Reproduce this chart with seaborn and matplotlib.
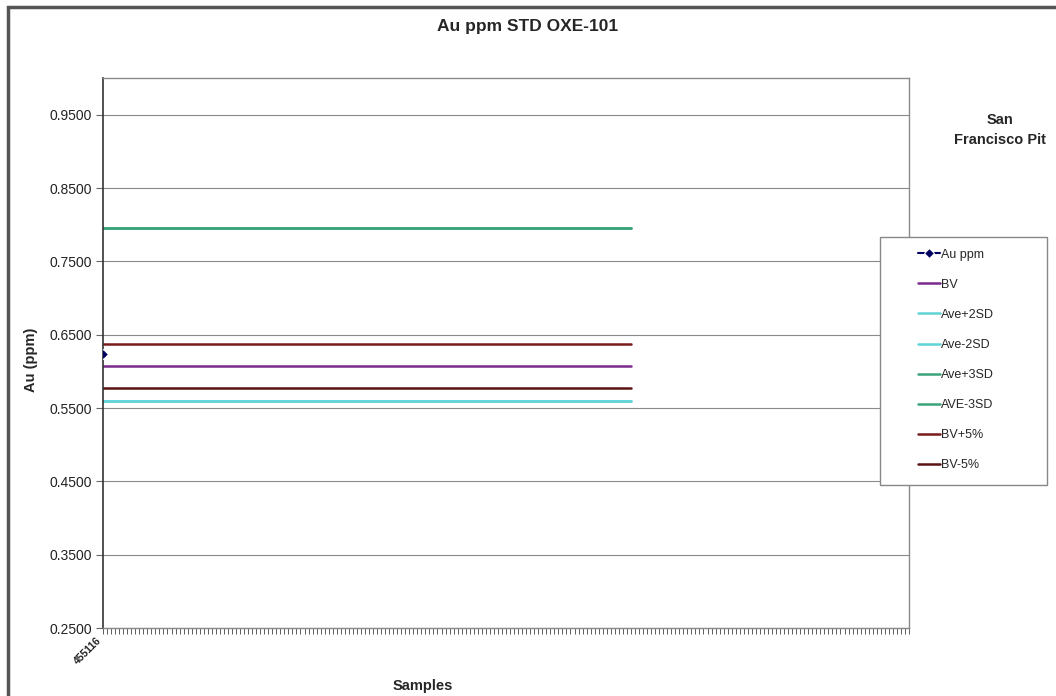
import matplotlib
matplotlib.use("Agg")
import matplotlib.pyplot as plt
from matplotlib.patches import Rectangle
import numpy as np
import pandas as pd
import seaborn as sns

# category axis: one labelled sample then empty slots
n_slots = 201
sample_labels = ["455116"] + [""] * (n_slots - 1)

# Au ppm result (only one sample)
au_ppm = [0.623]

# control levels (constant lines across the first samples)
line_points = 132
bv = 0.607
ave_plus_2sd = 0.559
ave_minus_2sd = 0.559
ave_plus_3sd = 0.795
ave_minus_3sd = 0.795
bv_plus_5 = 0.637
bv_minus_5 = 0.577

y_ticks = [0.25, 0.35, 0.45, 0.55, 0.65, 0.75, 0.85, 0.95]

series = [
    ("BV", bv, "#7a2a8a"),
    ("Ave+2SD", ave_plus_2sd, "#5fd3d6"),
    ("Ave-2SD", ave_minus_2sd, "#5fd3d6"),
    ("Ave+3SD", ave_plus_3sd, "#3aa37a"),
    ("AVE-3SD", ave_minus_3sd, "#3aa37a"),
    ("BV+5%", bv_plus_5, "#7a1a1a"),
    ("BV-5%", bv_minus_5, "#5a1212"),
]

sns.set_style("white")
plt.rcParams["font.family"] = ["Liberation Sans", "DejaVu Sans"]

fig = plt.figure(figsize=(10.56, 6.96), dpi=100)
ax = fig.add_axes([103 / 1056, 1 - 628 / 696, 806 / 1056, 550 / 696])

au_df = pd.DataFrame({"x": np.arange(len(au_ppm)), "y": au_ppm})
sns.lineplot(data=au_df, x="x", y="y", ax=ax, color="#000060", marker="D",
             markersize=5, linewidth=1.5, label="Au ppm", zorder=5)

xs = np.arange(line_points)
for name, level, color in series:
    df = pd.DataFrame({"x": xs, "y": [level] * line_points})
    sns.lineplot(data=df, x="x", y="y", ax=ax, color=color, linewidth=1.8,
                 label=name)

ax.set_xlim(0, n_slots - 1)
ax.set_ylim(0.25, 1.0)
ax.set_yticks(y_ticks)
ax.set_yticklabels([f"{t:.4f}" for t in y_ticks], fontsize=10, color="#222222")
ax.set_xticks(np.arange(n_slots))
ax.set_xticklabels(sample_labels, rotation=45, ha="right", va="top",
                   fontsize=7.5, fontweight="bold", color="#222222")
ax.tick_params(axis="x", bottom=True, length=4, width=0.6, color="#444444", pad=1)
ax.tick_params(axis="y", left=True, length=5, width=0.8, color="#666666", pad=3)
ax.yaxis.grid(True, color="#8a8a8a", linewidth=0.8)
ax.set_axisbelow(True)
for side in ["top", "right", "bottom"]:
    ax.spines[side].set_color("#8a8a8a")
    ax.spines[side].set_linewidth(1.0)
ax.spines["left"].set_color("#333333")
ax.spines["left"].set_linewidth(1.2)
ax.set_xlabel("")
ax.set_ylabel("")
ax.get_legend().remove()

fig.text(0.4995, 1 - 27 / 696, "Au ppm STD OXE-101", ha="center", va="center",
         fontsize=12.5, fontweight="bold")
fig.text(31 / 1056, 1 - 360 / 696, "Au (ppm)", rotation=90, ha="center", va="center",
         fontsize=10.5, fontweight="bold")
fig.text(423 / 1056, 1 - 686 / 696, "Samples", ha="center", va="center",
         fontsize=10.5, fontweight="bold")
fig.text(1000 / 1056, 1 - 130 / 696, "San\nFrancisco Pit", ha="center",
         va="center", fontsize=10.5, fontweight="bold", linespacing=1.5)

# legend box with white fill sits over the right part of the plot
fig.patches.append(Rectangle((880 / 1056, 1 - 485 / 696), 167 / 1056, 248 / 696,
                             transform=fig.transFigure, facecolor="white",
                             edgecolor="#888888", linewidth=1.0, zorder=3))
handles, labels = ax.get_legend_handles_labels()
leg = fig.legend(handles, labels, loc="center",
                 bbox_to_anchor=(956 / 1056, 1 - 360 / 696),
                 frameon=False, fontsize=9, labelspacing=1.45,
                 handlelength=1.75, handletextpad=0.15)
leg.set_zorder(4)

# outer chart frame
fig.patches.append(Rectangle((8 / 1056, -0.05), 1.1, 1 - 7 / 696 + 0.05,
                             transform=fig.transFigure, fill=False,
                             edgecolor="#555555", linewidth=2.5, zorder=2))

fig.savefig("out.png", dpi=100)
